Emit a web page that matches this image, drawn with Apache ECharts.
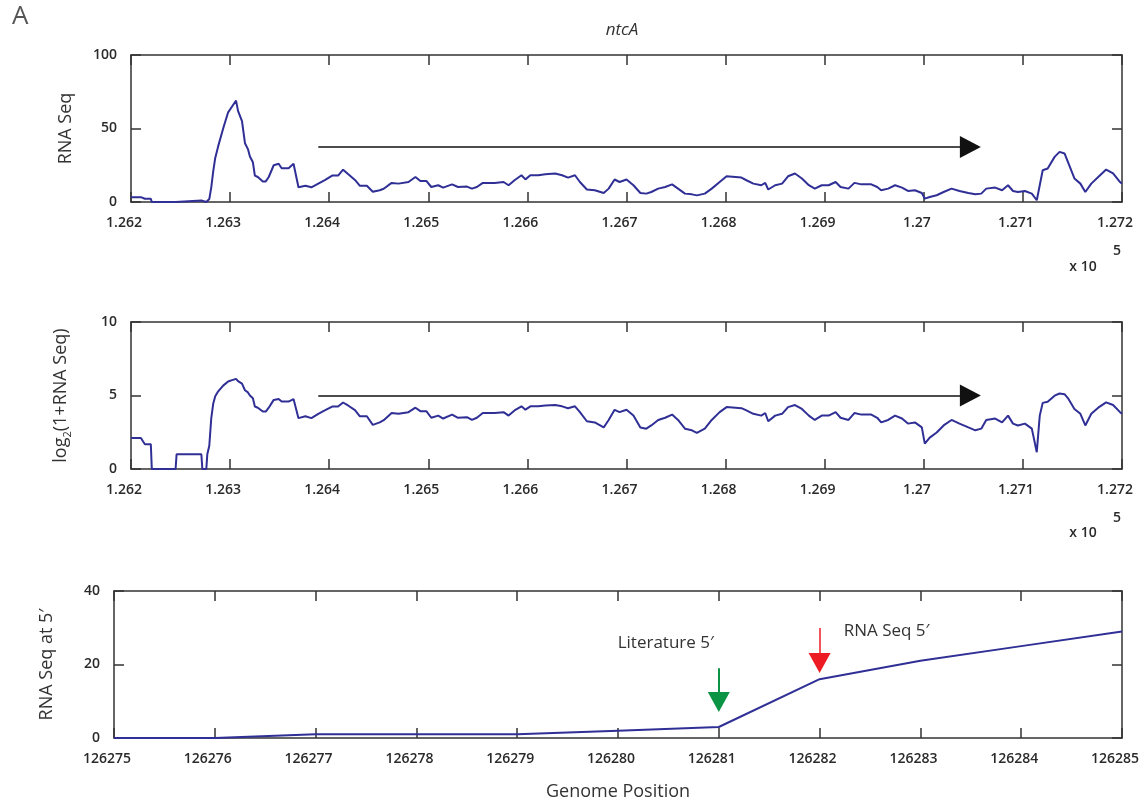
<!DOCTYPE html>
<html>
<head>
<meta charset="utf-8">
<title>ntcA</title>
<script src="https://cdn.jsdelivr.net/npm/echarts@6/dist/echarts.min.js"></script>
<style>
    html, body { margin: 0; padding: 0; background: #fff; }
    #chart { width: 1146px; height: 807px; }
</style>
</head>
<body>
<div id="chart"></div>
<script>
    // coverage along the ntcA region (genome position, RNA Seq reads)
    var covPos = [
        126200, 126210, 126214, 126220, 126221, 126245, 126246, 126271, 126272, 126276,
        126277, 126279, 126281, 126283, 126285, 126288, 126293, 126298, 126302, 126306,
        126308, 126312, 126315, 126318, 126320, 126323, 126325, 126328, 126333, 126336,
        126339, 126344, 126349, 126352, 126359, 126364, 126369, 126376, 126382, 126389,
        126396, 126403, 126409, 126414, 126419, 126426, 126431, 126438, 126444, 126451,
        126455, 126463, 126470, 126480, 126487, 126492, 126498, 126503, 126510, 126515,
        126524, 126530, 126539, 126544, 126549, 126555, 126567, 126576, 126581, 126587,
        126594, 126598, 126603, 126611, 126618, 126628, 126635, 126641, 126648, 126653,
        126660, 126668, 126677, 126682, 126688, 126693, 126700, 126707, 126714, 126720,
        126725, 126732, 126739, 126746, 126752, 126759, 126766, 126771, 126779, 126786,
        126794, 126801, 126810, 126816, 126821, 126828, 126836, 126840, 126843, 126850,
        126857, 126863, 126870, 126877, 126884, 126890, 126897, 126904, 126911, 126916,
        126924, 126930, 126937, 126947, 126953, 126957, 126964, 126971, 126978, 126984,
        126991, 126998, 127001, 127006, 127013, 127020, 127028, 127036, 127045, 127052,
        127058, 127063, 127072, 127079, 127085, 127090, 127095, 127102, 127109, 127114,
        127117, 127120, 127125, 127132, 127137, 127142, 127146, 127152, 127158, 127163,
        127169, 127176, 127184, 127191, 127198, 127200
    ];
    var covVal = [
        3.3, 3.3, 2.2, 2.2, 0, 0, 1, 1, 0, 0,
        1, 2, 10, 21, 30, 38, 50, 61, 65, 69,
        62, 55, 40, 36, 31, 27, 18, 17, 14, 14,
        17, 25, 26, 23, 23, 26, 10, 11, 10, 12.5,
        15, 18, 18, 22, 19, 15, 11, 11, 7, 8,
        9, 13, 12.5, 13.6, 17, 14.3, 14.3, 10.2, 11.4, 9.8,
        12, 10.2, 10.5, 9.1, 10.2, 13, 13, 13.6, 11.4, 14.8,
        18.2, 15.4, 18.2, 18.2, 18.9, 19.4, 18.2, 16.6, 18.2, 13.6,
        8.5, 8, 6.1, 9.1, 15.3, 13.6, 15.3, 11.4, 6.1, 5.7,
        6.8, 9.1, 10.2, 12, 9.1, 5.7, 5.2, 4.5, 5.7, 9.1,
        13.6, 17.5, 17, 16.6, 14.8, 12.5, 11.4, 13, 8.5, 11.4,
        12.5, 17.5, 19.4, 16, 11.4, 9.1, 11.4, 11.4, 13.6, 10.2,
        9.1, 13, 12, 12, 10.2, 8, 9.1, 11.4, 9.8, 7.5,
        8, 6.1, 2.3, 3.4, 4.6, 6.8, 9.1, 7.5, 6.1, 5.2,
        5.7, 9.1, 9.8, 8, 11.4, 7.5, 6.8, 7.5, 5.7, 1.2,
        11.4, 21.6, 22.8, 30.7, 34.1, 33, 26.2, 16, 12.5, 6.8,
        12.5, 17, 22.1, 19.4, 13.6, 12.5
    ];
    var covTickLabels = ['1.262', '1.263', '1.264', '1.265', '1.266', '1.267', '1.268', '1.269', '1.27', '1.271', '1.272'];

    // gene direction arrow (start, arrowhead centre)
    var geneArrowX = [126389, 127047];
    var geneArrowLevel = [37.5, 5];

    // RNA Seq counts at the 5' end
    var endPos = [126275, 126276, 126277, 126278, 126279, 126280, 126281, 126282, 126283, 126284, 126285];
    var endVal = [0, 0, 1, 1, 1, 2, 3, 16, 21, 25, 29];
    var endTickLabels = ['126275', '126276', '126277', '126278', '126279', '126280', '126281', '126282', '126283', '126284', '126285'];

    // literature 5' and RNA Seq 5' markers: position, arrow top, arrowhead centre
    var litMark = [126281, 19, 9.8];
    var seqMark = [126282, 29.9, 20.4];

    var FONT = '"Open Sans", "Liberation Sans", sans-serif';
    var LINE_COLOR = '#2f2f96';
    var FRAME = '#333';

    var chart = echarts.init(document.getElementById('chart'));

    function frameAxis(extra) {
        return Object.assign({
            type: 'value',
            axisLine: {show: true, onZero: false, lineStyle: {color: FRAME, width: 1.5}},
            axisTick: {show: true, inside: true, length: 10, lineStyle: {color: FRAME, width: 1.5}},
            splitLine: {show: false},
            axisLabel: {show: false}
        }, extra);
    }

    var tickText = {
        show: true,
        color: '#2a2a2a',
        fontSize: 14,
        fontWeight: 600,
        fontFamily: FONT
    };

    function xLabels(labels, base, step, margin) {
        return Object.assign({}, tickText, {
            margin: margin,
            padding: [0, 14, 0, 0],
            formatter: function (v) {
                return labels[Math.round((v - base) / step)];
            }
        });
    }

    var covData = covPos.map(function (p, i) {
        return [p, covVal[i]];
    });
    // middle panel is log2(1 + RNA Seq) of the same coverage
    var covLogData = covPos.map(function (p, i) {
        return [p, Math.log2(1 + covVal[i])];
    });
    var endData = endPos.map(function (p, i) {
        return [p, endVal[i]];
    });

    function geneArrow(level) {
        return {
            silent: true,
            symbol: ['none', 'triangle'],
            symbolSize: [22, 21],
            label: {show: false},
            itemStyle: {color: '#111'},
            lineStyle: {color: '#111', width: 1.5, type: 'solid'},
            data: [[{coord: [geneArrowX[0], level]}, {coord: [geneArrowX[1], level]}]]
        };
    }

    chart.setOption({
        animation: false,
        backgroundColor: '#fff',
        grid: [
            {left: 131, top: 55, width: 991, height: 147, outerBoundsMode: 'none'},
            {left: 131, top: 322, width: 991, height: 147, outerBoundsMode: 'none'},
            {left: 114, top: 591, width: 1008, height: 147, outerBoundsMode: 'none'}
        ],
        xAxis: [
            frameAxis({gridIndex: 0, position: 'bottom', min: 126200, max: 127200, interval: 100,
                axisLabel: xLabels(covTickLabels, 126200, 100, 14)}),
            frameAxis({gridIndex: 0, position: 'top', min: 126200, max: 127200, interval: 100}),
            frameAxis({gridIndex: 1, position: 'bottom', min: 126200, max: 127200, interval: 100,
                axisLabel: xLabels(covTickLabels, 126200, 100, 14)}),
            frameAxis({gridIndex: 1, position: 'top', min: 126200, max: 127200, interval: 100}),
            frameAxis({gridIndex: 2, position: 'bottom', min: 126275, max: 126285, interval: 1,
                axisLabel: xLabels(endTickLabels, 126275, 1, 14),
                name: 'Genome Position', nameLocation: 'middle', nameGap: 45,
                nameTextStyle: {fontSize: 18, color: '#333', fontFamily: FONT}}),
            frameAxis({gridIndex: 2, position: 'top', min: 126275, max: 126285, interval: 1})
        ],
        yAxis: [
            frameAxis({gridIndex: 0, position: 'left', min: 0, max: 100, interval: 50,
                axisLabel: Object.assign({}, tickText, {margin: 14}),
                name: 'RNA Seq', nameLocation: 'middle', nameGap: 56,
                nameTextStyle: {fontSize: 18, color: '#333', fontFamily: FONT}}),
            frameAxis({gridIndex: 0, position: 'right', min: 0, max: 100, interval: 50}),
            frameAxis({gridIndex: 1, position: 'left', min: 0, max: 10, interval: 5,
                axisLabel: Object.assign({}, tickText, {margin: 14}),
                name: '{t|log}{s|2}{t|(1+RNA Seq)}', nameLocation: 'middle', nameGap: 58,
                nameTextStyle: {
                    color: '#333',
                    fontFamily: FONT,
                    rich: {
                        t: {fontSize: 18, color: '#333', fontFamily: FONT, lineHeight: 24},
                        s: {fontSize: 11, color: '#333', fontFamily: FONT, lineHeight: 24, verticalAlign: 'bottom', padding: [10, 0, 0, 0]}
                    }
                }}),
            frameAxis({gridIndex: 1, position: 'right', min: 0, max: 10, interval: 5}),
            frameAxis({gridIndex: 2, position: 'left', min: 0, max: 40, interval: 20,
                axisLabel: Object.assign({}, tickText, {margin: 14}),
                name: 'RNA Seq at 5\u2032', nameLocation: 'middle', nameGap: 58,
                nameTextStyle: {fontSize: 18, color: '#333', fontFamily: FONT}}),
            frameAxis({gridIndex: 2, position: 'right', min: 0, max: 40, interval: 20})
        ],
        series: [
            {
                type: 'line',
                xAxisIndex: 0,
                yAxisIndex: 0,
                data: covData,
                showSymbol: false,
                lineStyle: {color: LINE_COLOR, width: 2},
                itemStyle: {color: LINE_COLOR},
                markLine: geneArrow(geneArrowLevel[0])
            },
            {
                type: 'line',
                xAxisIndex: 2,
                yAxisIndex: 2,
                data: covLogData,
                showSymbol: false,
                lineStyle: {color: LINE_COLOR, width: 2},
                itemStyle: {color: LINE_COLOR},
                markLine: geneArrow(geneArrowLevel[1])
            },
            {
                type: 'line',
                xAxisIndex: 4,
                yAxisIndex: 4,
                data: endData,
                showSymbol: false,
                lineStyle: {color: LINE_COLOR, width: 2},
                itemStyle: {color: LINE_COLOR},
                markLine: {
                    silent: true,
                    symbol: ['none', 'triangle'],
                    symbolSize: [22, 20],
                    label: {show: false},
                    data: [
                        [{coord: [litMark[0], litMark[1]], lineStyle: {color: '#0b9444', width: 2, type: 'solid'}, itemStyle: {color: '#0b9444'}},
                            {coord: [litMark[0], litMark[2]]}],
                        [{coord: [seqMark[0], seqMark[1]], lineStyle: {color: '#ed1c24', width: 1.5, type: 'solid'}, itemStyle: {color: '#ed1c24'}},
                            {coord: [seqMark[0], seqMark[2]]}]
                    ]
                },
                markPoint: {
                    silent: true,
                    symbolSize: 0,
                    itemStyle: {color: 'rgba(0,0,0,0)'},
                    label: {show: true, color: '#333', fontSize: 17, fontFamily: FONT},
                    data: [
                        {coord: [litMark[0], litMark[1]], label: {formatter: 'Literature 5\u2032', offset: [-53, -25]}},
                        {coord: [seqMark[0], seqMark[1]], label: {formatter: 'RNA Seq 5\u2032', offset: [67, 3]}}
                    ]
                }
            }
        ],
        graphic: [
            {type: 'text', x: 12, y: 4, style: {text: 'A', font: '26px ' + FONT, fill: '#555'}},
            {type: 'text', x: 622, y: 30, style: {text: 'ntcA', font: 'italic 17px ' + FONT, fill: '#333', align: 'center', verticalAlign: 'middle'}},
            {type: 'text', x: 1083, y: 267, style: {text: 'x 10', font: '600 14px ' + FONT, fill: '#2a2a2a', align: 'center', verticalAlign: 'middle'}},
            {type: 'text', x: 1117, y: 251, style: {text: '5', font: '600 14px ' + FONT, fill: '#2a2a2a', align: 'center', verticalAlign: 'middle'}},
            {type: 'text', x: 1083, y: 533, style: {text: 'x 10', font: '600 14px ' + FONT, fill: '#2a2a2a', align: 'center', verticalAlign: 'middle'}},
            {type: 'text', x: 1117, y: 518, style: {text: '5', font: '600 14px ' + FONT, fill: '#2a2a2a', align: 'center', verticalAlign: 'middle'}}
        ]
    });
</script>
</body>
</html>
